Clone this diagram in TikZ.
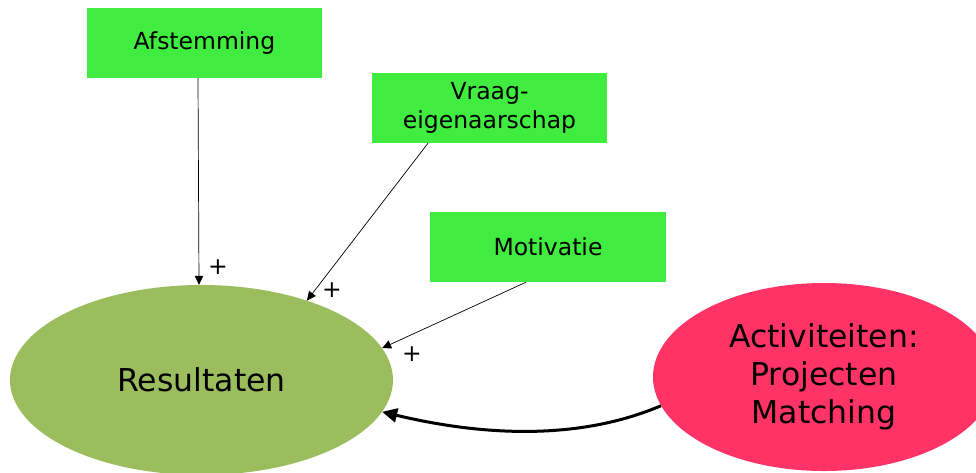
\documentclass[tikz,border=0pt]{standalone}
\usepackage{fontspec}
\setmainfont{DejaVu Sans}
\usetikzlibrary{shapes.geometric,arrows.meta,calc}
\definecolor{boxgreen}{RGB}{64,236,64}
\definecolor{resgreen}{RGB}{155,189,94}
\definecolor{actred}{RGB}{255,51,102}
\begin{document}
\begin{tikzpicture}[x=1pt,y=-1pt,
  factor/.style={fill=boxgreen, minimum width=235pt, minimum height=70pt, inner sep=0pt, align=center, font=\fontsize{23.5}{29}\selectfont},
  bigoval/.style={ellipse, inner sep=0pt, align=center, font=\fontsize{31.5}{38}\selectfont},
  infl/.style={-{Triangle[length=9pt,width=8.5pt]}, line width=0.7pt},
  sign/.style={font=\fontsize{23.5}{23.5}\selectfont, inner sep=0pt},
  mainarrow/.style={-{Triangle[length=15pt,width=14pt]}, line width=3pt}]
\useasboundingbox (0,0) rectangle (976,472);
\node[factor] (afst) at (204.5,43) {Afstemming};
\node[factor] (vraag) at (489.5,108) {Vraag-\\eigenaarschap};
\node[factor, minimum width=236pt] (motiv) at (548,247) {Motivatie};
\node[bigoval, fill=resgreen, minimum width=383pt, minimum height=190pt] (res) at (201.5,380) {Resultaten};
\node[bigoval, fill=actred, minimum width=342pt, minimum height=188pt] (act) at (824,377) {Activiteiten:\\Projecten\\Matching};
\draw[infl] ($(afst.south)+(-6.5,0)$) -- ($(res.north)+(-2.5,0)$);
\draw[infl] ($(vraag.south)+(-61.5,0)$) -- (res.37);
\draw[infl] ($(motiv.south)+(-22,0)$) -- (res.10);
\draw[mainarrow] (act.190) .. controls (590,436) and (500,440) .. (res.-10);
\node[sign] (p1) at (218,267) {+};
\node[sign] (p2) at (332,290) {+};
\node[sign] (p3) at (412,354) {+};
\end{tikzpicture}
\end{document}
